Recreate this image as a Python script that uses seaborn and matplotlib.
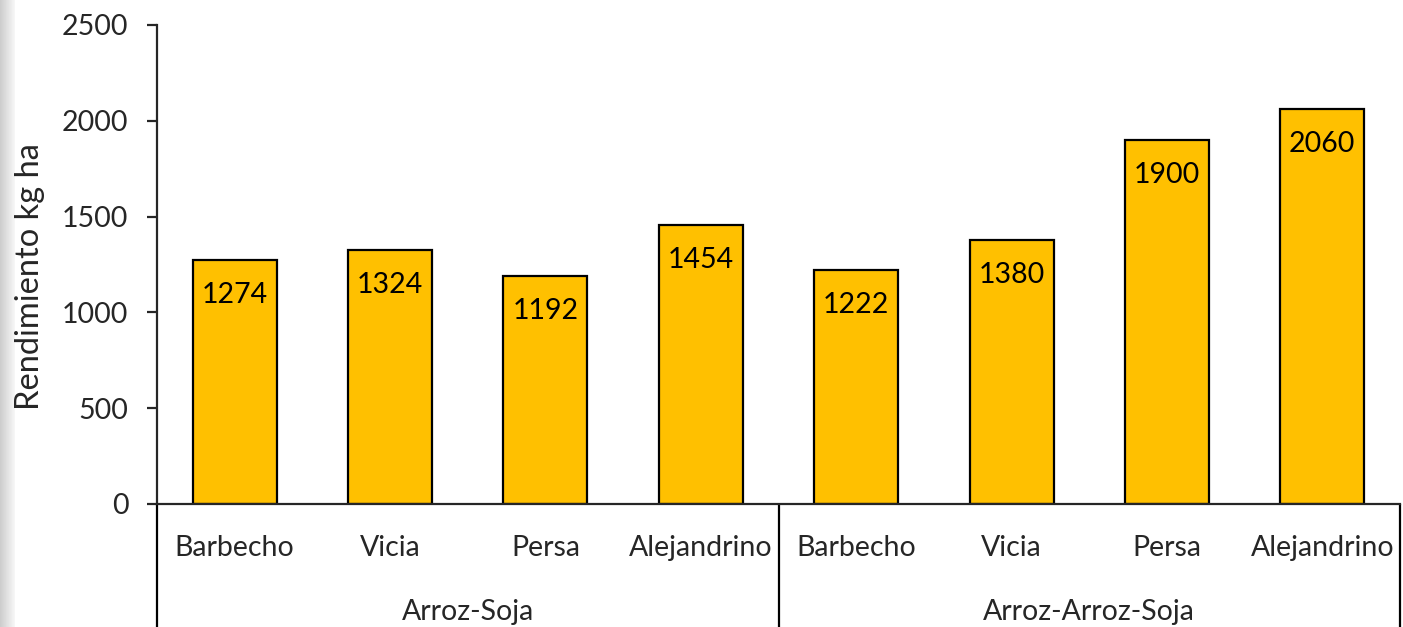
import matplotlib
matplotlib.use("Agg")
import matplotlib.pyplot as plt
import seaborn as sns
import numpy as np
import pandas as pd

groups = ["Arroz-Soja", "Arroz-Arroz-Soja"]
crops = ["Barbecho", "Vicia", "Persa", "Alejandrino"]
soja_vals = [1274, 1324, 1192, 1454]
arroz_vals = [1222, 1380, 1900, 2060]
yticks = [0, 500, 1000, 1500, 2000, 2500]
ylabel = "Rendimiento kg ha"

sns.set_style("white")
plt.rcParams["font.family"] = ["Lato", "DejaVu Sans"]
FS = 20.5

df = pd.DataFrame({
    "key": [f"{g}|{c}" for g in groups for c in crops],
    "crop": crops * 2,
    "val": soja_vals + arroz_vals,
})

fig = plt.figure(figsize=(14.03, 6.27), dpi=100)
# left gray strip
bg = fig.add_axes([0, 0, 0.010, 1])
grad = np.linspace(0.80, 0.97, 50).reshape(1, -1)
bg.imshow(grad, cmap="gray", vmin=0, vmax=1, aspect="auto", extent=[0, 1, 0, 1])
bg.axis("off")

ax = fig.add_axes([157/1403, 1-504/627, (1400-157)/1403, (504-25)/627])
sns.barplot(data=df, x="key", y="val", color="#FFC000", edgecolor="black",
            linewidth=1.6, width=0.54, saturation=1, ax=ax, zorder=2)

ax.set_ylim(0, 2500)
ax.set_xlim(-0.5, 7.5)
ax.set_yticks(yticks)
ax.set_yticklabels([str(t) for t in yticks], fontsize=FS)
ax.tick_params(axis="y", which="major", direction="out", length=7.5, width=1.6,
               pad=13, left=True)
ax.tick_params(axis="x", bottom=False, labelbottom=False)
ax.set_xlabel("")
ax.set_ylabel(ylabel, fontsize=23.5)
ax.yaxis.set_label_coords(-0.090, 0.474)

for s in ["top", "right"]:
    ax.spines[s].set_visible(False)
ax.spines["left"].set_linewidth(1.6)
ax.spines["bottom"].set_linewidth(1.6)
ax.spines["left"].set_bounds(0, 2500)

for p, v in zip(ax.patches, df["val"]):
    x = p.get_x() + p.get_width() / 2
    ax.annotate(str(v), (x, p.get_height()), xytext=(0, -35),
                textcoords="offset pixels", ha="center", va="center",
                fontsize=FS, color="black")

trans = ax.get_xaxis_transform()
for i, c in enumerate(df["crop"]):
    ax.text(i, -0.092, c, transform=trans, ha="center", va="center", fontsize=FS)
for gi, g in enumerate(groups):
    ax.text(gi * 4 + 1.5, -0.225, g, transform=trans, ha="center", va="center", fontsize=FS)
for xs in [-0.5, 3.5, 7.5]:
    ax.plot([xs, xs], [0, -0.26], transform=trans, color="black", lw=1.6,
            clip_on=False, solid_capstyle="butt")

fig.savefig("out.png", dpi=100)
